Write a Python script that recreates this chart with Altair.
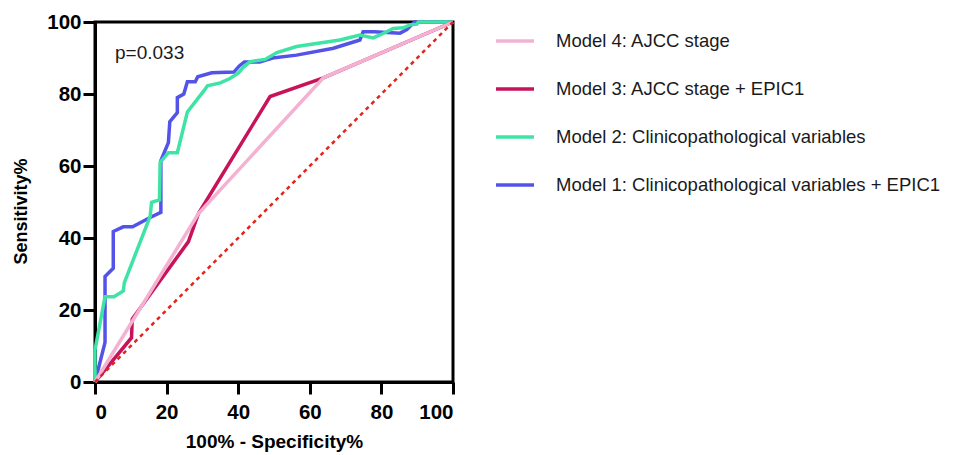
import altair as alt
import pandas as pd

# ---- data ----
models = [
    "Model 4: AJCC stage",
    "Model 3: AJCC stage + EPIC1",
    "Model 2: Clinicopathological variables",
    "Model 1: Clinicopathological variables + EPIC1",
]
colors = ["#f4b2d2", "#c8125a", "#3fe3a5", "#5353ea"]

m1_x = [0, 2.8, 2.8, 5.1, 5.1, 7.9, 10.5, 15.4, 18.4, 18.4, 20.5, 20.9, 23.0, 23.0, 24.8, 25.8, 28.0, 28.7,
        32.6, 38.8, 40.3, 41.7, 46.0, 49.6, 56.3, 66.6, 74.0, 74.9, 78.0, 85.2, 87.1, 88.7, 89.3, 100]
m1_y = [0, 11.0, 29.3, 31.6, 41.8, 43.1, 43.1, 45.7, 47.1, 61.5, 66.5, 72.3, 74.8, 79.0, 80.0, 83.4, 83.4, 84.8,
        85.9, 86.1, 87.8, 88.9, 88.9, 90.0, 90.8, 92.7, 95.0, 97.3, 97.3, 96.9, 97.9, 99.5, 100, 100]

m2_x = [0, 0, 2.8, 5.3, 7.9, 8.2, 15.4, 15.8, 18.0, 18.2, 20.5, 23.0, 25.8, 30.5, 31.4, 35.0, 37.7, 40.0,
        41.4, 43.3, 47.5, 50.8, 56.3, 68.4, 74.0, 77.7, 79.6, 83.3, 86.1, 88.0, 89.9, 90.3, 100]
m2_y = [0, 8.9, 23.7, 23.7, 25.3, 27.6, 46.0, 49.9, 50.6, 61.0, 63.7, 63.7, 75.0, 81.0, 82.3, 83.1, 84.3, 85.8,
        87.4, 89.0, 89.6, 91.5, 93.2, 95.0, 96.4, 95.6, 96.4, 98.2, 98.4, 99.2, 99.4, 100, 100]

m3_x = [0, 10.2, 10.4, 26.1, 28.9, 48.9, 63.8, 100]
m3_y = [0, 12.3, 17.5, 39.0, 46.8, 79.3, 84.5, 100]

m4_x = [0, 28.9, 63.8, 100]
m4_y = [0, 46.8, 84.5, 100]

ref_x = [0, 100]
ref_y = [0, 100]

x_ticks = [0, 20, 40, 60, 80, 100]
y_ticks = [0, 20, 40, 60, 80, 100]

annot_text = ["p=0.033"]
annot_x = [5.6]
annot_y = [91.5]

# ---- build table (draw order: model 1, model 2, model 3, model 4) ----
rows = []
for name, xs, ys in [(models[3], m1_x, m1_y), (models[2], m2_x, m2_y),
                     (models[1], m3_x, m3_y), (models[0], m4_x, m4_y)]:
    for i, (a, b) in enumerate(zip(xs, ys)):
        rows.append({"fpr": a, "tpr": b, "model": name, "idx": i})
df = pd.DataFrame(rows)
ref = pd.DataFrame({"fpr": ref_x, "tpr": ref_y})
ann = pd.DataFrame({"fpr": annot_x, "tpr": annot_y, "t": annot_text})

xs = alt.Scale(domain=[0, 100], nice=False)
ys = alt.Scale(domain=[0, 100], nice=False)

xaxis = alt.Axis(values=x_ticks, title="100% - Specificity%", titlePadding=10,
                 labelPadding=8, titleFontSize=19)
yaxis = alt.Axis(values=y_ticks, title="Sensitivity%", titlePadding=16,
                 labelPadding=2, titleFontSize=18, titleY=189)

lines = alt.Chart(df).mark_line(strokeWidth=3.5, strokeJoin="miter").encode(
    x=alt.X("fpr:Q", scale=xs, axis=xaxis),
    y=alt.Y("tpr:Q", scale=ys, axis=yaxis),
    color=alt.Color(
        "model:N",
        scale=alt.Scale(domain=models, range=colors),
        legend=alt.Legend(
            orient="none", legendX=399, legendY=-2, title=None,
            symbolType="stroke", symbolSize=1444, symbolStrokeWidth=3.5,
            labelFontSize=18.5, labelFont="Liberation Sans", labelColor="#1a1a1a",
            rowPadding=17, labelOffset=20, labelLimit=600,
        ),
    ),
    detail="model:N",
    order="idx:Q",
)

diag = alt.Chart(ref).mark_line(color="#e4231c", strokeWidth=2.5, strokeDash=[4, 4]).encode(
    x=alt.X("fpr:Q", scale=xs), y=alt.Y("tpr:Q", scale=ys)
)

text = alt.Chart(ann).mark_text(align="left", baseline="middle", fontSize=19,
                                font="Liberation Sans", color="#1a1a1a").encode(
    x=alt.X("fpr:Q", scale=xs), y=alt.Y("tpr:Q", scale=ys), text="t:N"
)

chart = alt.layer(lines, diag, text).properties(
    width=358, height=360,
    padding={"left": 87, "top": 14, "right": 495, "bottom": 73},
    autosize=alt.AutoSizeParams(type="none"),
).configure_view(
    stroke="black", strokeWidth=3
).configure_axis(
    grid=False, domainColor="black", domainWidth=3, tickColor="black", tickWidth=3,
    tickSize=12, labelFont="Liberation Sans", labelFontWeight="bold", labelFontSize=20.5,
    labelColor="black", titleFont="Liberation Sans", titleFontWeight="bold",
    titleColor="black",
)

chart.save("out.html", embed_options={"renderer": "svg", "actions": False})
